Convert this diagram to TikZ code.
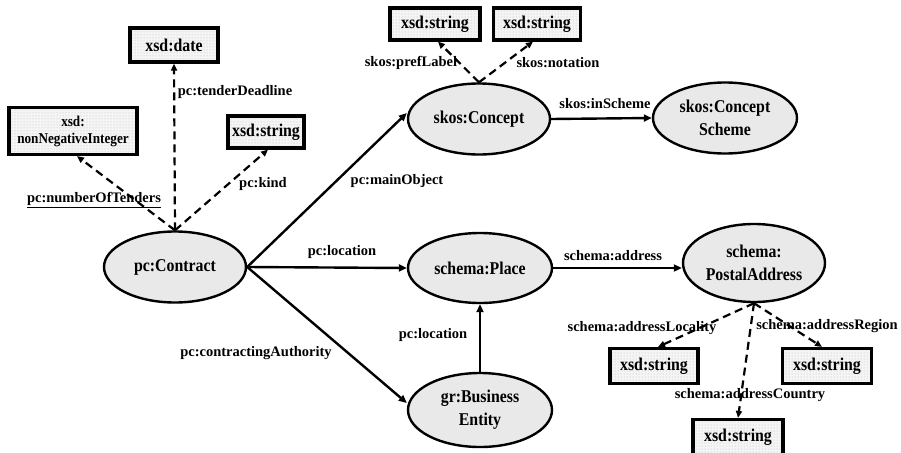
\documentclass[tikz,border=0pt]{standalone}
\usepackage{fontspec}
\setmainfont{Liberation Serif}
\newfontfamily\narrowserif[FakeStretch=0.88]{Liberation Serif}
\usetikzlibrary{shapes.geometric,arrows.meta,patterns}
\tikzset{
  cls/.style={ellipse,draw=black,line width=2.4pt,fill=gray!17,inner sep=0pt,
    minimum width=142pt,minimum height=71pt,align=center,
    font=\narrowserif\fontsize{18}{23}\selectfont\bfseries},
  lit/.style={rectangle,draw=black,line width=3.2pt,inner sep=0pt,
    preaction={fill=gray!8},pattern=dots,pattern color=gray!55,
    minimum height=33pt,align=center,font=\narrowserif\fontsize{18}{20}\selectfont\bfseries},
  elab/.style={inner sep=0pt,font=\fontsize{14.5}{16}\selectfont\bfseries},
  rel/.style={line width=2.4pt,-{Triangle[length=8pt,width=7pt]}},
  drel/.style={line width=2.2pt,dash pattern=on 8pt off 5pt,-{Triangle[length=7pt,width=6pt]}}
}
\begin{document}
\begin{tikzpicture}[x=1pt,y=-1pt]
\useasboundingbox (0,0) rectangle (901,452);
% classes
\node[cls] (contract) at (175,267) {pc:Contract};
\node[cls] (concept) at (479,119) {skos:Concept};
\node[cls,minimum width=144pt] (scheme) at (725,118) {skos:Concept\\Scheme};
\node[cls,minimum width=144pt,minimum height=70pt] (place) at (480,268) {schema:Place};
\node[cls,minimum width=144pt,minimum height=74pt] (business) at (480,410) {gr:Business\\Entity};
\node[cls,minimum height=78pt] (postal) at (754,263) {schema:\\PostalAddress};
% literals
\node[lit,minimum width=88pt,minimum height=34pt] (date) at (174,45) {xsd:date};
\node[lit,minimum width=128pt,minimum height=47pt,font=\narrowserif\fontsize{15}{17}\selectfont\bfseries] (nni) at (73,131) {xsd:\\nonNegativeInteger};
\node[lit,minimum width=76pt,minimum height=32pt] (kind) at (266,132) {xsd:string};
\node[lit,minimum width=90pt,minimum height=32pt] (pref) at (435,24) {xsd:string};
\node[lit,minimum width=87pt,minimum height=32pt] (notat) at (537,24) {xsd:string};
\node[lit,minimum width=88pt,minimum height=35pt] (local) at (654,366) {xsd:string};
\node[lit,minimum width=89pt,minimum height=35pt] (region) at (827,366) {xsd:string};
\node[lit,minimum width=90pt,minimum height=35pt] (country) at (738,437) {xsd:string};
% solid relations
\draw[rel] (contract.east) -- ([yshift=6pt]concept.west);
\draw[rel] (contract.east) -- (place.west);
\draw[rel] (contract.east) -- ([yshift=7pt]business.west);
\draw[rel] (business.north) -- (place.south);
\draw[rel] (place.east) -- (postal.west |- place.east);
\draw[rel] (concept.east) -- (scheme.west);
% dashed relations
\draw[drel] (contract.north) -- (date.south);
\draw[drel] (contract.north) -- ([xshift=4pt]nni.south);
\draw[drel] (contract.north) -- ([xshift=2pt]kind.south);
\draw[drel] (concept.north) -- ([xshift=3pt]pref.south);
\draw[drel] (concept.north) -- ([xshift=-4pt]notat.south);
\draw[drel] (postal.south) -- ([xshift=4pt]local.north);
\draw[drel] (postal.south) -- ([xshift=-5pt]region.north);
\draw[drel] (postal.south) -- (country.north);
% labels
\node[elab] (lmain) at (397,181) {pc:mainObject};
\node[elab] (lloc1) at (342,252) {pc:location};
\node[elab] (lca) at (256,353) {pc:contractingAuthority};
\node[elab] (lloc2) at (433,335) {pc:location};
\node[elab] (laddr) at (613,256) {schema:address};
\node[elab] (lins) at (605,104) {skos:inScheme};
\node[elab] (ltd) at (235,92) {pc:tenderDeadline};
\node[elab] (lnot) at (94,200) {\underline{pc:numberOfTenders}};
\node[elab] (lkind) at (263,184) {pc:kind};
\node[elab] (lpref) at (411,63) {skos:prefLabel};
\node[elab] (lnota) at (558,63) {skos:notation};
\node[elab] (lloc) at (642,328) {schema:addressLocality};
\node[elab] (lreg) at (827,326) {schema:addressRegion};
\node[elab] (lcty) at (750,395) {schema:addressCountry};
\end{tikzpicture}
\end{document}
